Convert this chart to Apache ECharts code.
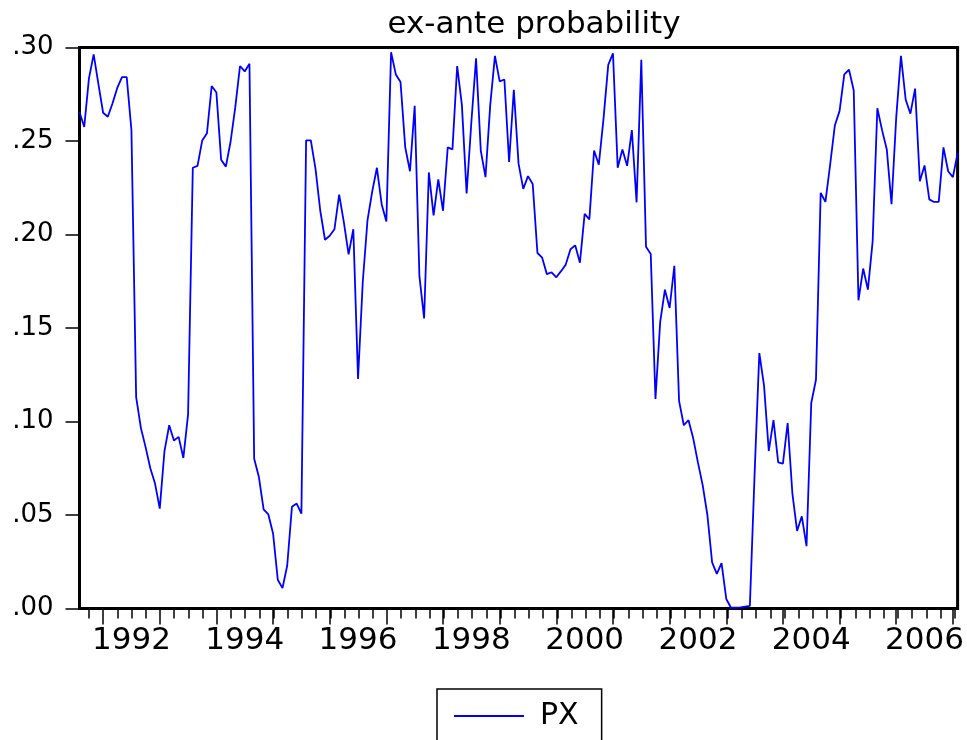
<!DOCTYPE html>
<html>
<head>
<meta charset="utf-8">
<script src="https://cdn.jsdelivr.net/npm/echarts@6/dist/echarts.min.js"></script>
<style>
  html, body { margin: 0; padding: 0; background: #fff; }
  #chart { width: 967px; height: 740px; }
</style>
</head>
<body>
<div id="chart"></div>
<script>
// Monthly ex-ante probability, first observation August 1991
const titleText = 'ex-ante probability';
const seriesName = 'PX';
const startYear = 1991;
const startMonth = 8;

const px = [
  0.2655, 0.2575, 0.2835, 0.2963, 0.2805,                                                   // 1991 Aug-Dec
  0.2651, 0.2630, 0.2702, 0.2784, 0.2842, 0.2842, 0.2558, 0.1130, 0.0966, 0.0863, 0.0750, 0.0668, // 1992
  0.0534, 0.0842, 0.0980, 0.0898, 0.0918, 0.0805, 0.1038, 0.2357, 0.2367, 0.2503, 0.2542, 0.2794, // 1993
  0.2759, 0.2400, 0.2363, 0.2496, 0.2681, 0.2901, 0.2872, 0.2913, 0.0801, 0.0703, 0.0530, 0.0503, // 1994
  0.0401, 0.0154, 0.0109, 0.0230, 0.0544, 0.0561, 0.0507, 0.2503, 0.2503, 0.2350, 0.2127, 0.1972, // 1995
  0.1993, 0.2028, 0.2213, 0.2065, 0.1894, 0.2028, 0.1227, 0.1746, 0.2075, 0.2229, 0.2357, 0.2162, // 1996
  0.2069, 0.2975, 0.2856, 0.2815, 0.2466, 0.2338, 0.2688, 0.1777, 0.1551, 0.2332, 0.2102, 0.2295, // 1997
  0.2127, 0.2466, 0.2455, 0.2901, 0.2692, 0.2219, 0.2599, 0.2942, 0.2449, 0.2307, 0.2692, 0.2955, // 1998
  0.2819, 0.2829, 0.2388, 0.2774, 0.2379, 0.2244, 0.2312, 0.2270, 0.1901, 0.1876, 0.1788, 0.1798, // 1999
  0.1771, 0.1804, 0.1839, 0.1921, 0.1942, 0.1849, 0.2110, 0.2081, 0.2449, 0.2373, 0.2620, 0.2907, // 2000
  0.2969, 0.2357, 0.2455, 0.2367, 0.2558, 0.2172, 0.2934, 0.1935, 0.1896, 0.1120, 0.1531, 0.1705, // 2001
  0.1607, 0.1833, 0.1110, 0.0980, 0.1007, 0.0910, 0.0780, 0.0660, 0.0500, 0.0247, 0.0185, 0.0243, // 2002
  0.0051, 0.0004, 0.0004, 0.0006, 0.0010, 0.0014, 0.0720, 0.1366, 0.1192, 0.0842, 0.1007, 0.0781, // 2003
  0.0775, 0.0992, 0.0616, 0.0415, 0.0493, 0.0333, 0.1099, 0.1223, 0.2223, 0.2174, 0.2373, 0.2583, // 2004
  0.2661, 0.2856, 0.2881, 0.2770, 0.1648, 0.1818, 0.1705, 0.1962, 0.2675, 0.2558, 0.2455, 0.2162, // 2005
  0.2626, 0.2955, 0.2722, 0.2646, 0.2780, 0.2285, 0.2369, 0.2188, 0.2174, 0.2174, 0.2466, 0.2338, // 2006
  0.2307, 0.2435                                                                             // 2007 Jan-Feb
];

// Years written under the axis
const yearLabels = ['1992', '1994', '1996', '1998', '2000', '2002', '2004', '2006'];
// Quarter-start months get a short tick, January a long one
const quarterMonths = ['01', '04', '07', '10'];

// Monthly category names such as 1991M08
const months = px.map((_, i) => {
  const m = startMonth - 1 + i;
  const y = startYear + Math.floor(m / 12);
  return y + 'M' + String((m % 12) + 1).padStart(2, '0');
});

const FONT = 'DejaVu Sans';
const LINE_BLUE = '#0000ff';
const plotRect = { left: 79.5, right: 7.5, top: 47.5, bottom: 131.5 };

const chart = echarts.init(document.getElementById('chart'), null, { renderer: 'canvas' });

chart.setOption({
  animation: false,
  backgroundColor: '#fff',
  title: {
    text: titleText,
    left: 534,
    top: 9.5,
    padding: 0,
    textAlign: 'center',
    textVerticalAlign: 'top',
    textStyle: { fontFamily: FONT, fontSize: 31, fontWeight: 'normal', color: '#000' }
  },
  legend: {
    // a plain line sample, no marker
    data: [{ name: seriesName, icon: 'rect' }],
    left: 437,
    top: 689,
    padding: [12, 23, 12, 17],
    borderColor: '#000',
    borderWidth: 1.5,
    backgroundColor: '#fff',
    itemWidth: 70,
    itemHeight: 2,
    itemStyle: { color: LINE_BLUE, borderWidth: 0 },
    textStyle: { fontFamily: FONT, fontSize: 30, color: '#000', padding: [0, 0, 0, 11] }
  },
  grid: [
    Object.assign({ show: true, borderColor: '#000', borderWidth: 3, backgroundColor: 'transparent' }, plotRect),
    Object.assign({ show: false }, plotRect)
  ],
  xAxis: [
    {
      // year ticks and year labels
      gridIndex: 0,
      type: 'category',
      data: months,
      boundaryGap: false,
      axisLine: { show: false },
      axisTick: {
        show: true,
        length: 16,
        interval: (index, value) => value.endsWith('M01'),
        lineStyle: { color: '#000', width: 1.5 }
      },
      axisLabel: {
        show: true,
        margin: 17,
        interval: (index, value) => value.endsWith('M07') && yearLabels.includes(value.slice(0, 4)),
        formatter: (value) => value.slice(0, 4),
        fontFamily: FONT,
        fontSize: 31,
        color: '#000'
      },
      splitLine: { show: false }
    },
    {
      // quarter ticks
      gridIndex: 1,
      type: 'category',
      data: months,
      boundaryGap: false,
      axisLine: { show: false },
      axisTick: {
        show: true,
        length: 10,
        interval: (index, value) => quarterMonths.includes(value.slice(5)),
        lineStyle: { color: '#000', width: 1.5 }
      },
      axisLabel: { show: false },
      splitLine: { show: false }
    }
  ],
  yAxis: [
    {
      gridIndex: 0,
      type: 'value',
      min: 0,
      max: 0.3,
      interval: 0.05,
      axisLine: { show: false },
      axisTick: { show: true, length: 14, lineStyle: { color: '#000', width: 1.5 } },
      axisLabel: {
        margin: 26,
        fontFamily: FONT,
        fontSize: 26,
        color: '#000',
        formatter: (v) => '.' + String(Math.round(v * 100)).padStart(2, '0')
      },
      splitLine: { show: false }
    },
    { gridIndex: 1, type: 'value', min: 0, max: 1, show: false }
  ],
  series: [
    {
      name: seriesName,
      type: 'line',
      xAxisIndex: 0,
      yAxisIndex: 0,
      data: px,
      symbol: 'none',
      lineStyle: { color: LINE_BLUE, width: 1.8 },
      itemStyle: { color: LINE_BLUE }
    }
  ]
});
</script>
</body>
</html>
